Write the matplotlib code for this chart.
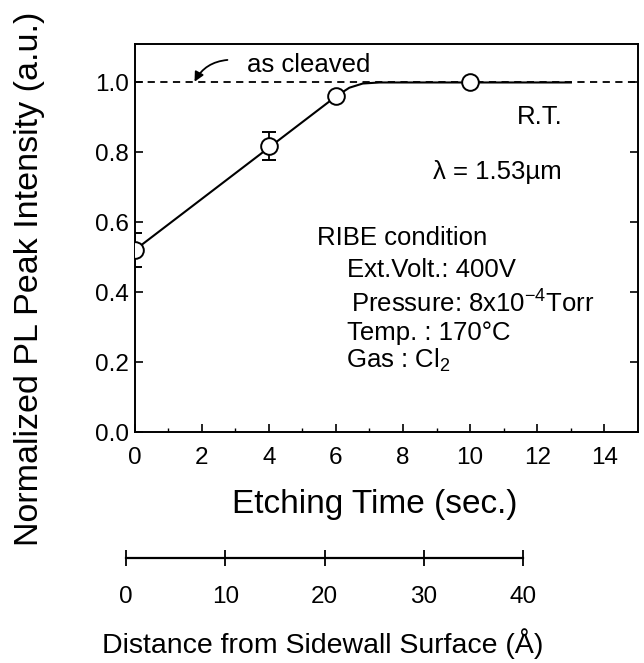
import matplotlib
matplotlib.use("Agg")
import matplotlib.pyplot as plt

plt.rcParams['font.family'] = ['Liberation Sans', 'DejaVu Sans']

# data
etch_time = [0, 4, 6, 10]
intensity = [0.52, 0.818, 0.96, 1.0]
err = [0.048, 0.04, 0.0, 0.0]
# guide line through data
fit_x = [0, 6, 6.4, 6.8, 7.3, 13.0]
fit_y = [0.52, 0.96, 0.985, 0.997, 1.0, 1.0]
as_cleaved = 1.0

x_ticks = [0, 2, 4, 6, 8, 10, 12, 14]
y_ticks = [0.0, 0.2, 0.4, 0.6, 0.8, 1.0]
dist_ticks = [0, 10, 20, 30, 40]

fig = plt.figure(figsize=(6.44, 6.63), dpi=100)
ax = fig.add_axes([0.2089, 0.3484, 0.7818, 0.5852])

ax.axhline(as_cleaved, color='black', lw=1.3, ls=(0, (4, 3)), zorder=1)
ax.plot(fit_x, fit_y, color='black', lw=1.5, zorder=2)
ax.errorbar(etch_time, intensity, yerr=err, fmt='o', ms=12, mfc='white',
            mec='black', mew=1.4, ecolor='black', elinewidth=1.3, capsize=5,
            capthick=1.5, zorder=3)

ax.set_xlim(0, 15)
ax.set_ylim(0, 1.11)
ax.set_xticks(x_ticks)
ax.set_xticks(range(0, 15), minor=True)
ax.set_yticks(y_ticks)
ax.set_yticklabels([f"{v:.1f}" for v in y_ticks])
ax.tick_params(axis='both', which='major', direction='in', length=6, width=1.2,
               labelsize=17.5, right=True)
ax.tick_params(axis='x', which='major', pad=11)
ax.tick_params(axis='x', which='minor', direction='in', length=3, width=1.0)
ax.tick_params(axis='y', which='major', pad=4)
for s in ax.spines.values():
    s.set_linewidth(1.4)

fig.text(30 / 644, 1 - 279 / 663, "Normalized PL Peak Intensity (a.u.)",
         fontsize=24.5, rotation=90, ha='center', va='center')

ax.text(3.36, 1.05, "as cleaved", fontsize=18.5, va='center', ha='left')
ax.annotate("", xy=(1.75, 0.995), xytext=(2.85, 1.065),
            arrowprops=dict(arrowstyle='-|>', color='black', lw=1.3,
                            connectionstyle="arc3,rad=0.3", mutation_scale=14))
ax.text(12.75, 0.90, "R.T.", fontsize=18.5, ha='right', va='center')
ax.text(8.9, 0.745, "λ = 1.53µm", fontsize=18.5, ha='left', va='center')
ax.text(5.44, 0.556, "RIBE condition", fontsize=18.5, ha='left', va='center')
ax.text(6.33, 0.464, "Ext.Volt.: 400V", fontsize=18.5, ha='left', va='center')
ax.text(6.44, 0.37, r"Pressure: 8x10$^{\mathregular{-4}}$Torr", fontsize=18.5, ha='left', va='center')
ax.text(6.33, 0.284, "Temp. : 170°C", fontsize=18.5, ha='left', va='center')
ax.text(6.3, 0.206, r"Gas : Cl$_{\mathregular{2}}$", fontsize=18.5, ha='left', va='center')

fig.text(375 / 644, 1 - 505 / 663, "Etching Time (sec.)", fontsize=24,
         ha='center', va='center')

# distance scale axis
ax2 = fig.add_axes([126 / 644, 1 - 558 / 663, 397 / 644, 0.001])
ax2.set_xlim(0, 40)
ax2.set_ylim(0, 1)
for k in ['top', 'left', 'right']:
    ax2.spines[k].set_visible(False)
ax2.spines['bottom'].set_linewidth(1.6)
ax2.set_yticks([])
ax2.set_xticks(dist_ticks)
ax2.tick_params(axis='x', direction='inout', length=11, width=1.3,
                labelsize=17.5, pad=15)
fig.text(323 / 644, 4 / 663, "Distance from Sidewall Surface (Å)",
         fontsize=20.5, ha='center', va='bottom')

fig.savefig("out.png", dpi=100)
